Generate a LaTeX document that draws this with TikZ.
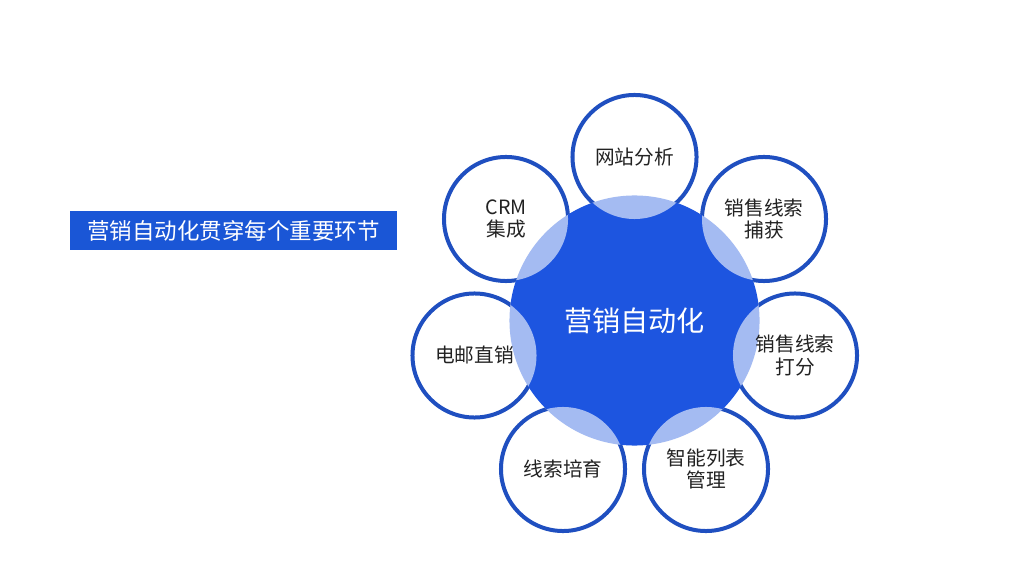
\documentclass[tikz,border=0pt]{standalone}
\usepackage{fontspec}
\setmainfont{Noto Sans CJK SC}
\usetikzlibrary{positioning}
\definecolor{HubBlue}{HTML}{1D55E0}
\definecolor{RingBlue}{HTML}{1F4FC0}
\definecolor{TagBlue}{HTML}{1A56D6}
\definecolor{TextGray}{HTML}{222222}

\begin{document}
\begin{tikzpicture}[
    x=0.025cm, y=-0.025cm,
    hub/.style={circle, fill=HubBlue, minimum size=6.25cm, inner sep=0pt, text=white, font=\fontsize{20}{24}\selectfont},
    sat/.style={circle, fill=white, fill opacity=0.6, text opacity=1, minimum size=3.1cm, inner sep=0pt, align=center, text=TextGray, font=\fontsize{14}{16.3}\selectfont},
    ring/.style={draw=RingBlue, line width=0.1cm},
    tag/.style={fill=TagBlue, text=white, minimum width=8.175cm, minimum height=0.975cm, inner sep=0pt, font=\fontsize{16}{19}\selectfont}
]
\fill[white] (0,0) rectangle (1024,576);
\useasboundingbox (0,0) rectangle (1024,576);

% Title tag
\node[tag] (title) at (233.5,230.5) {营销自动化贯穿每个重要环节};

% Hub
\node[hub] (hub) at (634.5,320.5) {营销自动化};

% Satellites
\node[sat] (web) at (634.5,157) {网站分析};
\node[sat] (capture) at (764,219) {销售线索\\捕获};
\node[sat] (score) at (795,355.5) {销售线索\\打分};
\node[sat] (list) at (706,469) {智能列表\\管理};
\node[sat] (nurture) at (563,469) {线索培育};
\node[sat] (mail) at (474.5,355.5) {电邮直销};
\node[sat] (crm) at (506,219) {CRM\\集成};

% Rings, only outside the hub
\begin{scope}[even odd rule]
\clip (0,0) rectangle (1024,576) (hub.center) circle[radius=3.125cm];
\foreach \n in {web,capture,score,list,nurture,mail,crm}
    \draw[ring] (\n.center) circle[radius=1.55cm];
\end{scope}

\end{tikzpicture}
\end{document}
